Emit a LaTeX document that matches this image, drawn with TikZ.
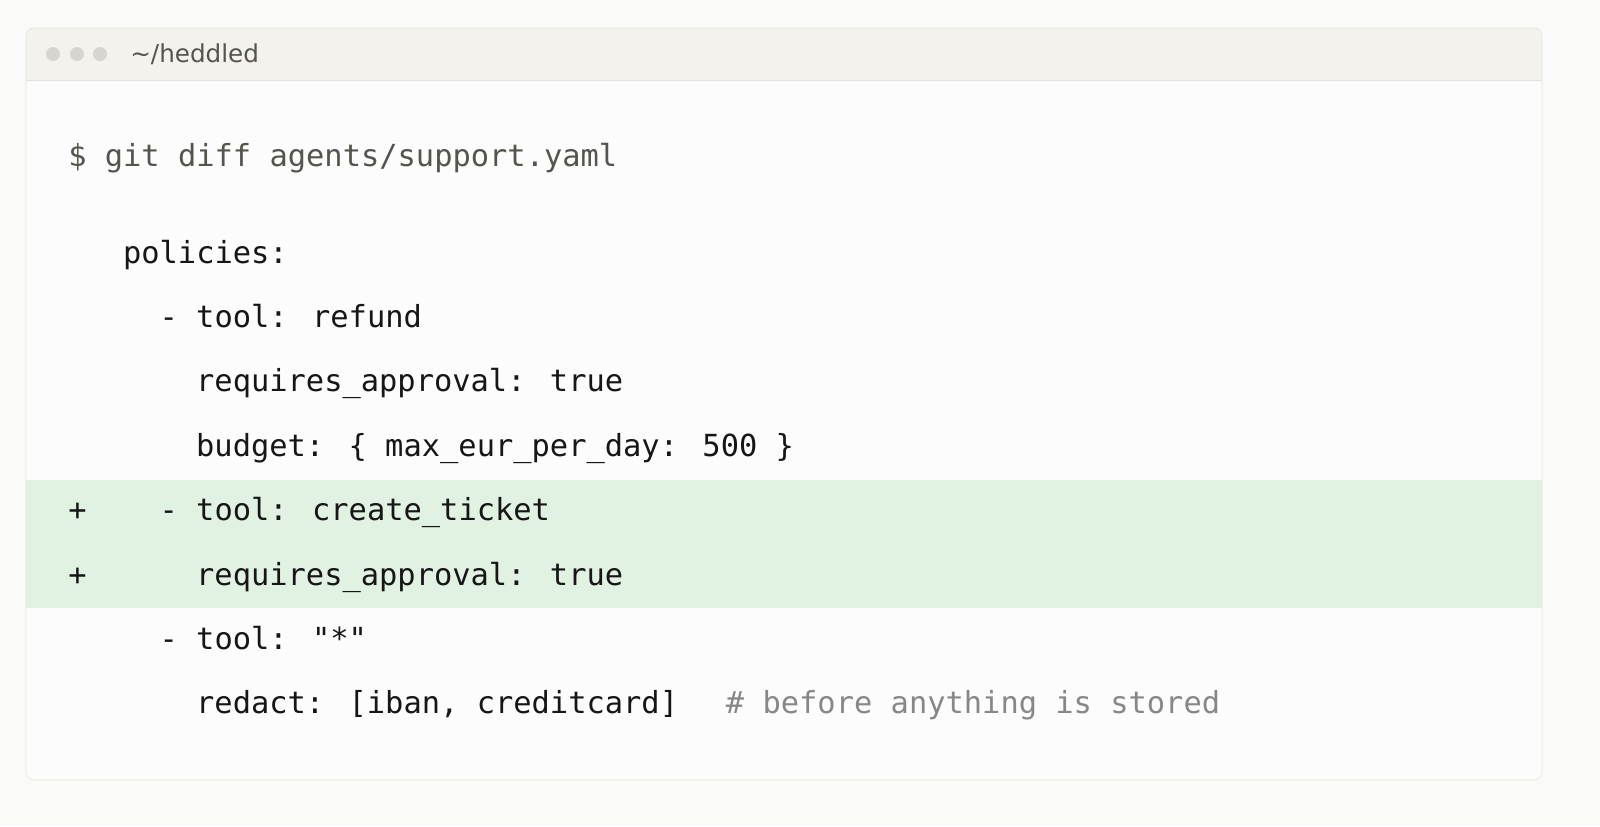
\documentclass[tikz,border=0pt]{standalone}
\usepackage{fontspec}
\usepackage{xcolor}
\usepackage{tikz}
\newfontfamily\codefont{DejaVu Sans Mono}
\newfontfamily\titlefont{DejaVu Sans}
\definecolor{pagebg}{HTML}{FAFAF8}
\definecolor{winbg}{HTML}{FCFCFC}
\definecolor{barbg}{HTML}{F3F2EC}
\definecolor{frame}{HTML}{E2E2DC}
\definecolor{dotgray}{HTML}{D6D5CF}
\definecolor{addbg}{HTML}{E1F2E3}
\definecolor{prompt}{HTML}{55554F}
\definecolor{codeink}{HTML}{161616}
\definecolor{cmt}{HTML}{878787}
\tikzset{
  code/.style={anchor=base west, inner sep=0pt, text=codeink,
    font=\codefont\fontsize{22.8pt}{26pt}\selectfont},
  dot/.style={circle, fill=dotgray, minimum size=10.5pt, inner sep=0pt}
}
% column position of monospaced text
\newcommand{\col}[1]{68+#1*18.27}

\begin{document}
\begin{tikzpicture}[x=0.75pt, y=-0.75pt]
        \fill[pagebg] (0,0) rectangle (1600,826);
        \useasboundingbox (0,0) rectangle (1600,826);

        % window
        \begin{scope}
            \clip[rounded corners=6pt] (26,28) rectangle (1542,780);
            \fill[winbg] (26,28) rectangle (1542,780);
            \fill[barbg] (26,28) rectangle (1542,80);
            \fill[addbg] (26,480) rectangle (1542,608);
        \end{scope}
        \draw[frame] (26,80) -- (1542,80);
        \draw[frame, rounded corners=6pt] (26,28) rectangle (1542,780);

        \node (dota) [dot] at (53,54) {};
        \node (dotb) [dot] at (77,54) {};
        \node (dotc) [dot] at (100,54) {};
        \node (title) [anchor=base west, inner sep=0pt, text=prompt,
            font=\titlefont\fontsize{18.5pt}{22pt}\selectfont] at (130,62) {\textasciitilde/heddled};

        % diff
        \node (cmd) [code, text=prompt] at (\col{0},166) {\$ git diff agents/support.yaml};
        \node (policies) [code] at (\col{3},263) {policies:};
        \node (refund) [code] at (\col{5},327) {- tool: refund};
        \node (approvea) [code] at (\col{7},391) {requires\_approval: true};
        \node (budget) [code] at (\col{7},456) {budget: \{ max\_eur\_per\_day: 500 \}};
        \node (plusa) [code] at (\col{0},520) {+};
        \node (ticket) [code] at (\col{5},520) {- tool: create\_ticket};
        \node (plusb) [code] at (\col{0},585) {+};
        \node (approveb) [code] at (\col{7},585) {requires\_approval: true};
        \node (star) [code] at (\col{5},649) {- tool: \symbol{34}*\symbol{34}};
        \node (redact) [code] at (\col{7},713) {redact: [iban, creditcard]};
        \node (note) [code, text=cmt] at (\col{36},713) {\# before anything is stored};
\end{tikzpicture}
\end{document}
